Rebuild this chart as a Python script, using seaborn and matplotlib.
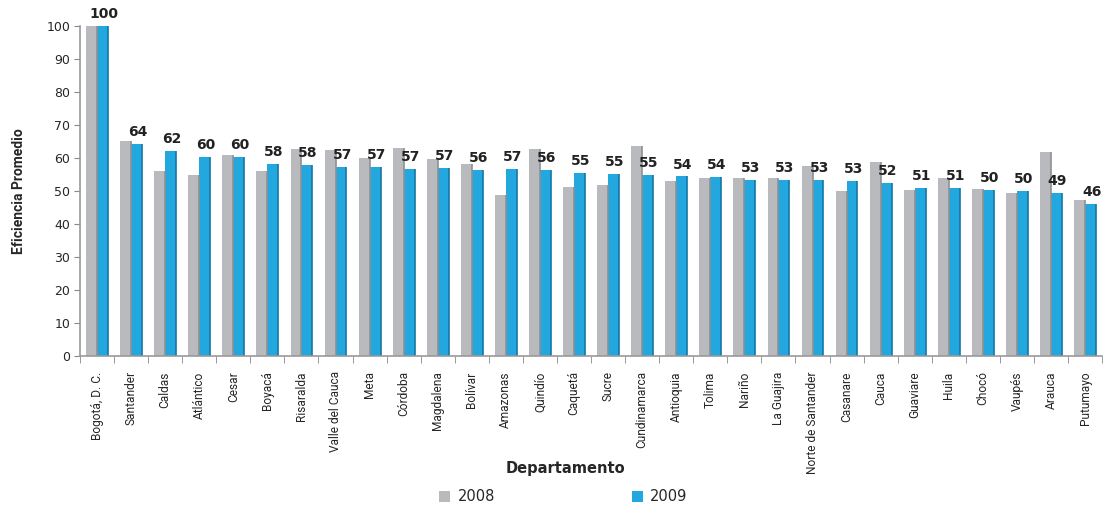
import numpy as np
import pandas as pd
import matplotlib
matplotlib.use("Agg")
import matplotlib.pyplot as plt
import seaborn as sns

# Data
departamentos = ["Bogotá, D. C.", "Santander", "Caldas", "Atlántico", "Cesar", "Boyacá",
                 "Risaralda", "Valle del Cauca", "Meta", "Córdoba", "Magdalena", "Bolívar",
                 "Amazonas", "Quindío", "Caquetá", "Sucre", "Cundinamarca", "Antioquia",
                 "Tolima", "Nariño", "La Guajira", "Norte de Santander", "Casanare", "Cauca",
                 "Guaviare", "Huila", "Chocó", "Vaupés", "Arauca", "Putumayo"]
ef_2008 = [100, 65.2, 56.0, 54.9, 60.9, 56.0, 62.7, 62.4, 60.0, 63.0, 59.8, 58.2,
           48.9, 62.7, 51.3, 51.8, 63.6, 53.0, 53.8, 53.8, 53.8, 57.6, 50.1, 58.9,
           50.3, 54.0, 50.7, 49.3, 61.9, 47.3]
ef_2009 = [100, 64.1, 62.0, 60.2, 60.2, 58.2, 57.9, 57.4, 57.3, 56.8, 56.9, 56.4,
           56.6, 56.3, 55.4, 55.2, 54.9, 54.4, 54.2, 53.4, 53.4, 53.2, 53.0, 52.4,
           50.9, 50.9, 50.4, 50.1, 49.4, 46.1]
etiquetas_2009 = [100, 64, 62, 60, 60, 58, 58, 57, 57, 57, 57, 56, 57, 56, 55, 55, 55,
                  54, 54, 53, 53, 53, 53, 52, 51, 51, 50, 50, 49, 46]
anios = ["2008", "2009"]

df = pd.DataFrame({
    "Departamento": departamentos * 2,
    "Eficiencia": ef_2008 + ef_2009,
    "Año": [anios[0]] * len(departamentos) + [anios[1]] * len(departamentos),
})

sns.set_style("white")
plt.rcParams["font.family"] = ["DejaVu Sans"]
narrow = ["Liberation Sans Narrow", "Roboto", "DejaVu Sans"]

colors = {"2008": "#B8BABD", "2009": "#22A7DF"}
fig = plt.figure(figsize=(11.05, 5.09), dpi=100)
ax = fig.add_axes([0.0724, 0.3006, 0.925, 0.6484])

sns.barplot(data=df, x="Departamento", y="Eficiencia", hue="Año", palette=colors,
            width=0.64, ax=ax, saturation=1, edgecolor="none", legend=True)

# darker right edges for a bit of depth
for cont, edge in zip(ax.containers, ["#8E9093", "#1577A6"]):
    for bar in cont:
        x = bar.get_x() + bar.get_width()
        ax.plot([x, x], [0, bar.get_height()], color=edge, lw=1.2, solid_capstyle="butt")

# value labels on 2009 bars
for bar, lab in zip(ax.containers[1], etiquetas_2009):
    ax.text(bar.get_x() + bar.get_width() * 0.6, bar.get_height() + 1.5, str(lab),
            ha="center", va="bottom", fontsize=10, fontweight="bold", color="#222222")

n = len(departamentos)
ax.set_xlim(-0.5, n - 0.5)
ax.set_ylim(0, 100)
ax.set_yticks(np.arange(0, 101, 10))
ax.tick_params(axis="y", labelsize=9, length=4, color="#888888", left=True, pad=3)
ax.set_xticks(np.arange(n))
ax.set_xticklabels(departamentos, rotation=90, fontsize=8.6, family=narrow)
ax.set_xticks(np.arange(-0.5, n, 1), minor=True)
ax.tick_params(axis="x", which="major", length=0, pad=11)
ax.tick_params(axis="x", which="minor", length=5, color="#888888", bottom=True)

for s in ["top", "right"]:
    ax.spines[s].set_visible(False)
for s in ["left", "bottom"]:
    ax.spines[s].set_color("#999999")
    ax.spines[s].set_linewidth(1.2)

ax.set_ylabel("Eficiencia Promedio", fontsize=10, fontweight="bold", family=narrow)
ax.yaxis.set_label_coords(-0.053, 0.5)
ax.set_xlabel("Departamento", fontsize=10.5, fontweight="bold")
ax.xaxis.set_label_coords(0.475, -0.318)

ax.legend(loc="center", bbox_to_anchor=(0.473, -0.427), ncol=2, frameon=False,
          fontsize=10.5, handlelength=0.75, handleheight=0.75, handletextpad=0.5,
          columnspacing=9.4)

fig.savefig("out.png", dpi=100)
